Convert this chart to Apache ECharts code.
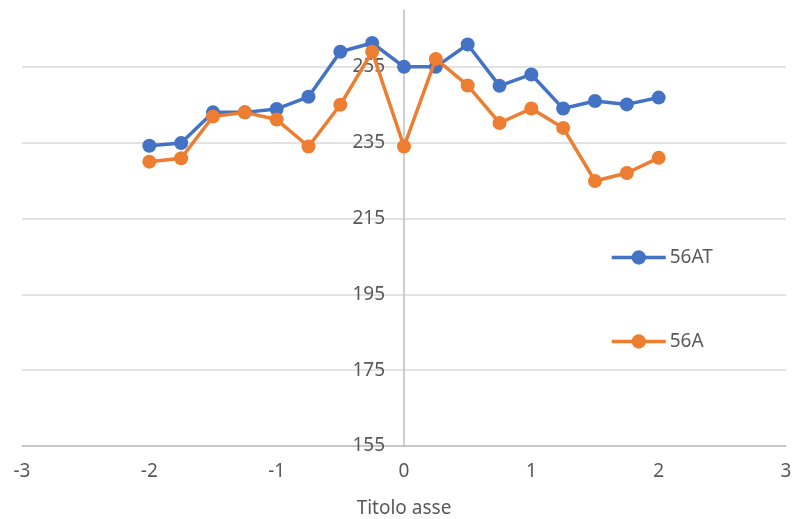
<!DOCTYPE html>
<html>
<head>
<meta charset="utf-8">
<script src="https://cdn.jsdelivr.net/npm/echarts@6/dist/echarts.min.js"></script>
<style>html,body{margin:0;padding:0;background:#fff}#c{width:794px;height:519px}</style>
</head>
<body>
<div id="c"></div>
<script>
var xValues = [-2, -1.75, -1.5, -1.25, -1, -0.75, -0.5, -0.25, 0, 0.25, 0.5, 0.75, 1, 1.25, 1.5, 1.75, 2];
var values56AT = [234.2, 234.9, 243.0, 243.0, 243.9, 247.1, 259.0, 261.3, 255.0, 255.0, 260.9, 250.0, 253.0, 244.0, 246.0, 245.1, 246.9];
var values56A = [230.0, 230.9, 241.9, 243.0, 241.1, 234.0, 245.0, 259.0, 234.0, 257.1, 250.1, 240.2, 244.0, 238.9, 224.9, 227.0, 231.0];
var yTicks = [155, 175, 195, 215, 235, 255];
var xTitle = 'Titolo asse';

function pairs(vals) { return xValues.map(function (x, i) { return [x, vals[i]]; }); }

var FONT = 'Noto Sans';
var TXT = '#595959';
var GRID_L = 22, GRID_R = 8, W = 794;
var chart = echarts.init(document.getElementById('c'), null, { renderer: 'canvas' });
// y axis crosses at x = 0: shift it from the grid's left edge to the middle of the x range
var yAxisOffset = -((W - GRID_L - GRID_R) / 2);
chart.setOption({
  animation: false,
  backgroundColor: '#fff',
  grid: { left: GRID_L, right: GRID_R, top: 10, bottom: 73, containLabel: false, outerBoundsMode: 'none' },
  legend: {
    orient: 'vertical', left: 610, top: 248, padding: 0,
    itemWidth: 54, itemHeight: 18, itemGap: 65,
    lineStyle: { width: 3.5 },
    textStyle: { color: TXT, fontSize: 19, fontFamily: FONT, padding: [0, 0, 0, -1] },
    data: ['56AT', '56A']
  },
  xAxis: {
    type: 'value', min: -3, max: 3, interval: 1,
    name: xTitle, nameLocation: 'middle', nameGap: 53,
    nameTextStyle: { color: TXT, fontSize: 19, fontFamily: FONT },
    axisLine: { show: true, onZero: false, lineStyle: { color: '#BFBFBF', width: 1.5 } },
    axisTick: { show: false },
    splitLine: { show: false },
    axisLabel: { color: TXT, fontSize: 19, fontFamily: FONT, margin: 16 }
  },
  yAxis: {
    type: 'value', min: 155, max: 270, interval: 20,
    position: 'left', offset: yAxisOffset,
    axisLine: { show: true, onZero: false, lineStyle: { color: '#BFBFBF', width: 1.5 } },
    axisTick: { show: false },
    axisLabel: {
      color: TXT, fontSize: 19, fontFamily: FONT, margin: 19, showMaxLabel: false,
      formatter: function (v) { return yTicks.indexOf(v) >= 0 ? String(v) : ''; }
    },
    splitLine: { show: true, showMaxLine: false, lineStyle: { color: '#D9D9D9', width: 1.5 } }
  },
  series: [
    {
      name: '56AT', type: 'line', data: pairs(values56AT),
      symbol: 'circle', symbolSize: 14,
      lineStyle: { color: '#4472C4', width: 3.5 },
      itemStyle: { color: '#4472C4' }, z: 3
    },
    {
      name: '56A', type: 'line', data: pairs(values56A),
      symbol: 'circle', symbolSize: 14,
      lineStyle: { color: '#ED7D31', width: 3.5 },
      itemStyle: { color: '#ED7D31' }, z: 4
    }
  ]
});
</script>
</body>
</html>
